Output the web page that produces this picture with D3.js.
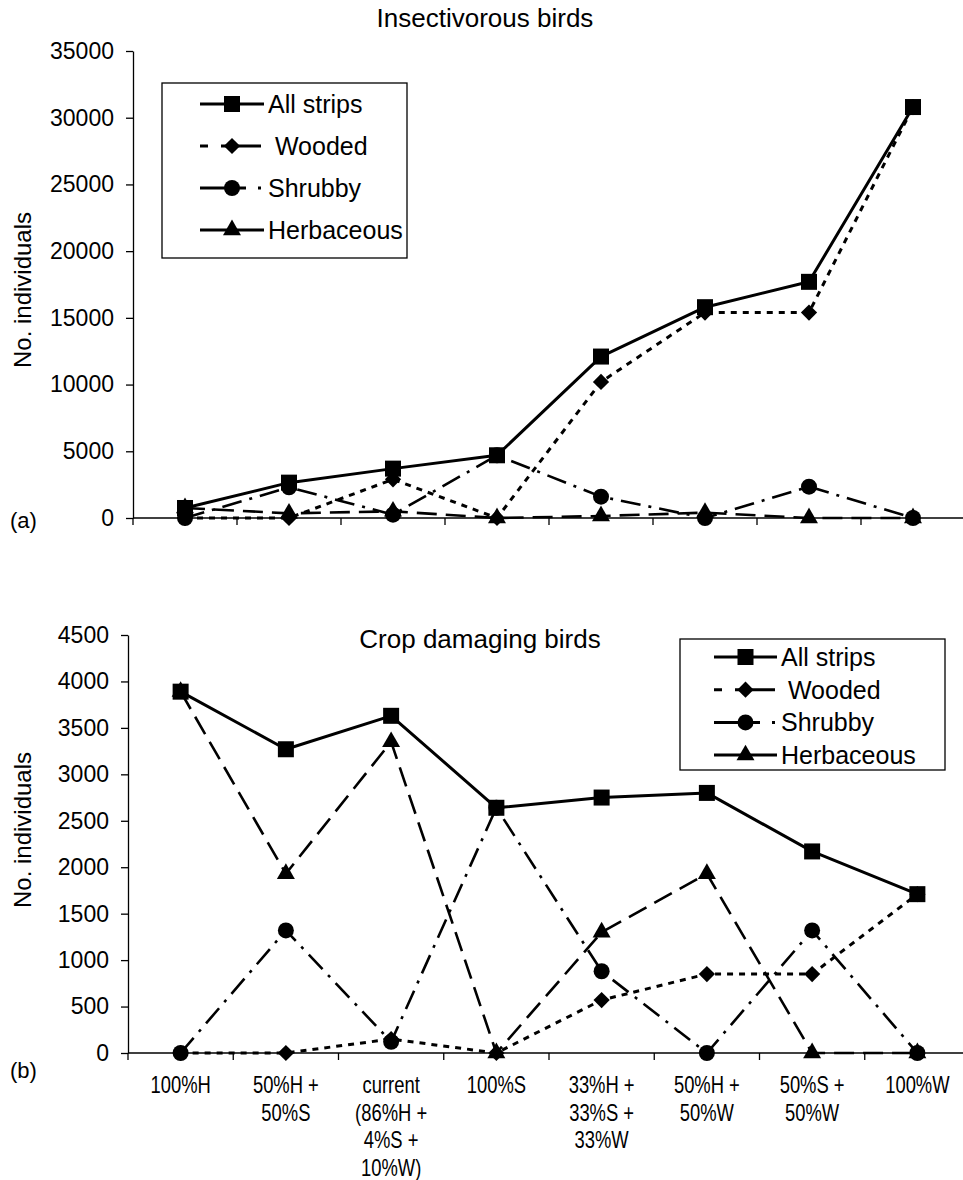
<!DOCTYPE html>
<html>
<head>
<meta charset="utf-8">
<script src="https://cdn.jsdelivr.net/npm/d3@7"></script>
<style>
	body { margin: 0; background: #fff; }
	svg text { font-family: "Liberation Sans", Arial, sans-serif; fill: #000; }
</style>
</head>
<body>
<div id="chart"></div>
<script>
'use strict';

var categories = ["100%H", "50%H +\n50%S", "current\n(86%H +\n4%S +\n10%W)", "100%S",
	"33%H +\n33%S +\n33%W", "50%H +\n50%W", "50%S +\n50%W", "100%W"];
var seriesNames = ["All strips", "Wooded", "Shrubby", "Herbaceous"];

// (a) insectivorous birds
var insectAll = [750, 2650, 3700, 4700, 12100, 15800, 17700, 30800];
var insectWooded = [0, 0, 2900, 0, 10200, 15400, 15400, 30800];
var insectShrubby = [0, 2300, 250, 4700, 1600, 0, 2350, 0];
var insectHerb = [750, 350, 500, 0, 150, 400, 0, 0];
var insectTicks = [0, 5000, 10000, 15000, 20000, 25000, 30000, 35000];

// (b) crop damaging birds
var cropAll = [3890, 3270, 3630, 2640, 2750, 2800, 2170, 1710];
var cropWooded = [0, 0, 150, 0, 570, 850, 850, 1710];
var cropShrubby = [0, 1320, 120, 2640, 880, 0, 1320, 0];
var cropHerb = [3890, 1930, 3350, 0, 1300, 1930, 0, 0];
var cropTicks = [0, 500, 1000, 1500, 2000, 2500, 3000, 3500, 4000, 4500];

var styles = [
	{ dash: null, legendDash: null, width: 3, symbol: "square" },
	{ dash: "6,6", legendDash: "8,13,40", width: 3, symbol: "diamond" },
	{ dash: "20,8,3,8", legendDash: "46,12,3,10", width: 2.6, symbol: "circle" },
	{ dash: "20,9", legendDash: null, width: 2.6, symbol: "triangle" }
];

var svg = d3.select("#chart")
	.append("svg")
	.attr("width", 963)
	.attr("height", 1180);

function marker(g, type, x, y)
{
	if (type == "square")
		g.append("rect").attr("x", x - 8).attr("y", y - 8).attr("width", 16).attr("height", 16);
	else if (type == "diamond")
		g.append("path").attr("d", d3.symbol(d3.symbolSquare, 132)()).attr("transform", "translate(" + x + "," + y + ") rotate(45)");
	else if (type == "circle")
		g.append("circle").attr("cx", x).attr("cy", y).attr("r", 8);
	else
		g.append("path").attr("d", d3.symbol(d3.symbolTriangle, 140)()).attr("transform", "translate(" + x + "," + y + ")");
}

function drawPanel(p)
{
	var g = svg.append("g");
	var x = d3.scaleBand().domain(categories).range([p.left, p.right]).padding(0);
	var y = d3.scaleLinear().domain([0, p.max]).range([p.bottom, p.top]);
	var cx = function(i) { return x(categories[i]) + x.bandwidth() / 2; };

	var yAxis = d3.axisLeft(y).tickValues(p.ticks).tickFormat(d3.format("d"))
		.tickSize(7).tickSizeOuter(0).tickPadding(12);
	var ya = g.append("g").attr("transform", "translate(" + p.left + ",0)").call(yAxis);
	ya.selectAll("text").style("font-size", "23px").style("font-family", "Liberation Sans, Arial, sans-serif");
	ya.selectAll("line, path").attr("stroke", "#000").attr("stroke-width", 1.3);

	// x axis line at zero, with category boundary ticks
	g.append("line").attr("x1", p.left).attr("x2", p.right).attr("y1", y(0)).attr("y2", y(0))
		.attr("stroke", "#000").attr("stroke-width", 1.3);
	g.selectAll(".xt").data(categories.slice(1)).enter().append("line")
		.attr("x1", function(d) { return x(d); }).attr("x2", function(d) { return x(d); })
		.attr("y1", y(0)).attr("y2", y(0) + 7).attr("stroke", "#000").attr("stroke-width", 1.3);
	g.append("line").attr("x1", p.left).attr("x2", p.left).attr("y1", y(0)).attr("y2", y(0) + 7)
		.attr("stroke", "#000").attr("stroke-width", 1.3);

	if (p.labels)
	{
		categories.forEach(function(c, i)
		{
			c.split("\n").forEach(function(s, k)
			{
				g.append("text").attr("text-anchor", "middle").style("font-size", "23px")
					.attr("transform", "translate(" + cx(i) + "," + (y(0) + 40 + k * 27.5) + ") scale(0.8,1)")
					.text(s);
			});
		});
	}

	var line = d3.line().x(function(d, i) { return cx(i); }).y(function(d) { return y(d); });
	p.series.forEach(function(vals, s)
	{
		g.append("path").attr("d", line(vals)).attr("fill", "none").attr("stroke", "#000")
			.attr("stroke-width", styles[s].width).attr("stroke-dasharray", styles[s].dash)
			.attr("stroke-linejoin", "round");
	});
	p.series.forEach(function(vals, s)
	{
		var mg = g.append("g").attr("fill", "#000");
		vals.forEach(function(v, i) { marker(mg, styles[s].symbol, cx(i), y(v)); });
	});

	g.append("text").attr("x", p.titleX).attr("y", p.titleY).attr("text-anchor", "middle")
		.style("font-size", "26px").text(p.title);
	g.append("text").attr("transform", "translate(31," + p.ylabY + ") rotate(-90)")
		.attr("text-anchor", "middle").style("font-size", "24px").text("No. individuals");
	g.append("text").attr("x", 10).attr("y", p.tagY).style("font-size", "22px").text(p.tag);

	// legend
	var L = p.legend;
	var lg = g.append("g");
	lg.append("rect").attr("x", L.x).attr("y", L.y).attr("width", L.w).attr("height", L.h)
		.attr("fill", "#fff").attr("stroke", "#000").attr("stroke-width", 1.3);
	seriesNames.forEach(function(name, s)
	{
		var ly = L.y + L.first + s * L.step;
		lg.append("line").attr("x1", L.x + L.lx1).attr("x2", L.x + L.lx2).attr("y1", ly).attr("y2", ly)
			.attr("stroke", "#000").attr("stroke-width", 3).attr("stroke-dasharray", styles[s].legendDash);
		var mg = lg.append("g").attr("fill", "#000");
		marker(mg, styles[s].symbol, L.x + (L.lx1 + L.lx2) / 2, ly);
		lg.append("text").attr("x", L.x + L.lx2 + 4).attr("y", ly + 9).style("font-size", "25px")
			.text(s == 1 ? "\u00a0" + name : name);
	});
}

drawPanel({
	left: 133, right: 965, top: 51, bottom: 518, max: 35000, ticks: insectTicks,
	series: [insectAll, insectWooded, insectShrubby, insectHerb], labels: false,
	title: "Insectivorous birds", titleX: 485, titleY: 27, ylabY: 290, tag: "(a)", tagY: 528,
	legend: { x: 162, y: 83, w: 245, h: 175, first: 21, step: 42, lx1: 38, lx2: 102 }
});

drawPanel({
	left: 128, right: 970, top: 635, bottom: 1053, max: 4500, ticks: cropTicks,
	series: [cropAll, cropWooded, cropShrubby, cropHerb], labels: true,
	title: "Crop damaging birds", titleX: 480, titleY: 648, ylabY: 830, tag: "(b)", tagY: 1078,
	legend: { x: 680, y: 639, w: 265, h: 131, first: 18, step: 32.7, lx1: 34, lx2: 97 }
});
</script>
</body>
</html>
